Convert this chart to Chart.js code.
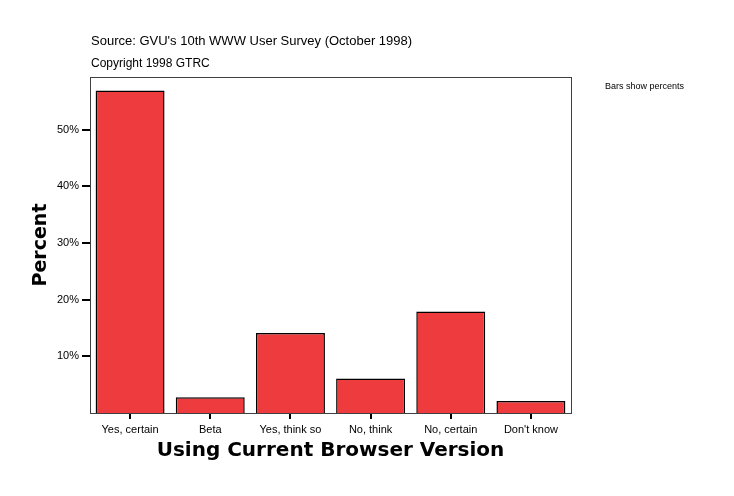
<!DOCTYPE html>
<html>
<head>
<meta charset="utf-8">
<script src="https://cdn.jsdelivr.net/npm/chart.js@4/dist/chart.umd.min.js"></script>
<style>
  html, body { margin: 0; padding: 0; background: #fff; }
  #wrap { width: 734px; height: 496px; position: relative; }
</style>
</head>
<body>
<div id="wrap"><canvas id="chart" width="734" height="496"></canvas></div>
<script>
const categories = ['Yes, certain', 'Beta', 'Yes, think so', 'No, think', 'No, certain', "Don't know"];
const percents = [56.9, 2.8, 14.1, 6.1, 17.9, 2.1];
const yTicks = [10, 20, 30, 40, 50];

const sansFont = '"Liberation Sans", Arial, sans-serif';

// titles and notes drawn round the plot, plus the grey frame
const decorations = {
  id: 'decorations',
  afterDraw(chart) {
    const {ctx, chartArea: area} = chart;
    ctx.save();
    ctx.strokeStyle = '#404040';
    ctx.lineWidth = 1;
    ctx.strokeRect(area.left + 0.5, area.top + 0.5, area.right - area.left, area.bottom - area.top);

    ctx.fillStyle = '#000';
    ctx.textBaseline = 'middle';
    ctx.textAlign = 'left';
    ctx.font = '13px ' + sansFont;
    ctx.fillText("Source: GVU's 10th WWW User Survey (October 1998)", 91, 41);
    ctx.font = '12px ' + sansFont;
    ctx.fillText('Copyright 1998 GTRC', 91, 64);
    ctx.font = '9px ' + sansFont;
    ctx.fillText('Bars show percents', 605, 87);

    ctx.font = 'bold 20px "DejaVu Sans", sans-serif';
    ctx.textAlign = 'center';
    ctx.fillText('Using Current Browser Version', (area.left + area.right) / 2, 451);

    ctx.translate(41, (area.top + area.bottom) / 2);
    ctx.rotate(-Math.PI / 2);
    ctx.font = 'bold 19px "DejaVu Sans", sans-serif';
    ctx.fillText('Percent', 0, 0);
    ctx.restore();
  }
};

new Chart(document.getElementById('chart'), {
  type: 'bar',
  data: {
    labels: categories,
    datasets: [{
      data: percents,
      backgroundColor: '#ee3b3e',
      borderColor: '#000',
      borderWidth: 1.5,
      barPercentage: 0.86,
      categoryPercentage: 1
    }]
  },
  options: {
    responsive: false,
    animation: false,
    layout: {padding: {left: 0, top: 77, right: 163, bottom: 0}},
    plugins: {
      legend: {display: false},
      tooltip: {enabled: false}
    },
    scales: {
      x: {
        afterFit: (scale) => { scale.height = 83; },
        border: {display: false},
        grid: {
          offset: false,
          drawOnChartArea: false,
          drawTicks: true,
          tickLength: 6,
          color: '#000',
          lineWidth: 2
        },
        ticks: {
          color: '#000',
          padding: 4,
          font: {family: sansFont, size: 11}
        }
      },
      y: {
        min: 0,
        max: 59.3,
        afterFit: (scale) => { scale.width = 90; },
        afterBuildTicks: (scale) => {
          scale.ticks = yTicks.map((v) => ({value: v}));
        },
        border: {display: false},
        grid: {
          drawOnChartArea: false,
          drawTicks: true,
          tickLength: 8,
          color: '#000',
          lineWidth: 2
        },
        ticks: {
          color: '#000',
          padding: 3,
          font: {family: sansFont, size: 11},
          callback: (v) => v + '%'
        }
      }
    }
  },
  plugins: [decorations]
});
</script>
</body>
</html>
